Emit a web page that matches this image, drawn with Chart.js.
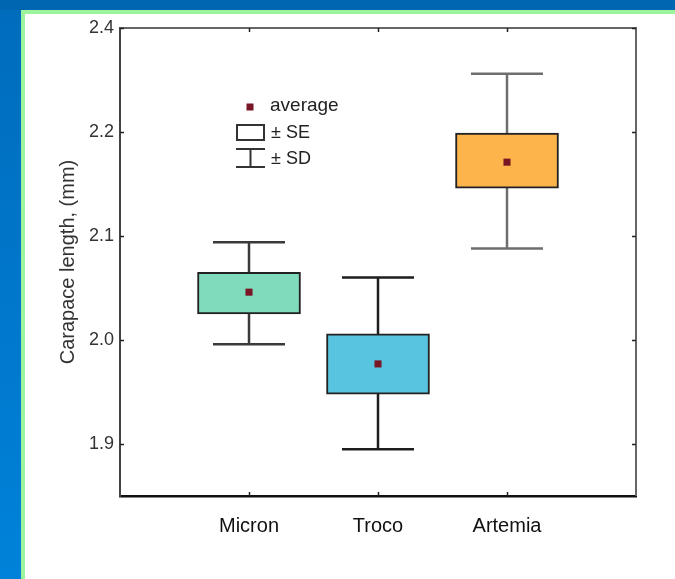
<!DOCTYPE html>
<html>
<head>
<meta charset="utf-8">
<script src="https://cdn.jsdelivr.net/npm/chart.js@4.4.1/dist/chart.umd.min.js"></script>
<style>
html, body { margin: 0; padding: 0; }
body { width: 675px; height: 579px; overflow: hidden; background: #0066b2; position: relative; }
#side { position: absolute; left: 0; top: 10px; width: 21px; height: 569px; background: linear-gradient(#006cbc, #0082da); }
#panel { position: absolute; left: 21px; top: 10px; right: 0; bottom: 0; background: #fff;
         border-top: 4px solid #9cf59c; border-left: 4px solid #9cf59c; }
#chart { position: absolute; left: 0; top: 0; }
</style>
</head>
<body>
<div id="side"></div>
<div id="panel"></div>
<canvas id="chart" width="675" height="579"></canvas>
<script>
var categories = ['Micron', 'Troco', 'Artemia'];
var means  = [2.046, 1.977, 2.171];
var seLow  = [2.025, 1.948, 2.146];
var seHigh = [2.065, 2.006, 2.199];
var sdLow  = [1.996, 1.895, 2.088];
var sdHigh = [2.094, 2.060, 2.256];
// the original figure labels its top tick "2.4" although it sits at 2.3
var yTickValues = [1.9, 2.0, 2.1, 2.2, 2.3];
var yTickLabels = ['1.9', '2.0', '2.1', '2.2', '2.4'];

var boxColors = ['#7fdbbb', '#58c4df', '#fdb44b'];
var whiskerColors = ['#3a3a3a', '#1e1e1e', '#6e6e6e'];

Chart.defaults.font.family = "'Liberation Sans', Arial, sans-serif";
Chart.defaults.color = '#333';

// whiskers, the box frame with inward ticks, and the little key
var decorPlugin = {
    id: 'decor',
    beforeDatasetsDraw: function (chart) {
        var ctx = chart.ctx, xs = chart.scales.x, ys = chart.scales.y;
        ctx.save();
        ctx.lineWidth = 2.5;
        for (var i = 0; i < categories.length; i++) {
            var x = xs.getPixelForValue(i + 1);
            var top = ys.getPixelForValue(sdHigh[i]);
            var bot = ys.getPixelForValue(sdLow[i]);
            ctx.strokeStyle = whiskerColors[i];
            ctx.beginPath();
            ctx.moveTo(x, top); ctx.lineTo(x, bot);
            ctx.moveTo(x - 36, top); ctx.lineTo(x + 36, top);
            ctx.moveTo(x - 36, bot); ctx.lineTo(x + 36, bot);
            ctx.stroke();
        }
        ctx.restore();
    },
    afterDraw: function (chart) {
        var ctx = chart.ctx, a = chart.chartArea, xs = chart.scales.x, ys = chart.scales.y;
        ctx.save();
        // top and right edges of the frame
        ctx.strokeStyle = '#666';
        ctx.lineWidth = 2;
        ctx.beginPath();
        ctx.moveTo(a.left, a.top); ctx.lineTo(a.right, a.top); ctx.lineTo(a.right, a.bottom);
        ctx.stroke();
        // inward ticks
        ctx.strokeStyle = '#222';
        ctx.lineWidth = 1.5;
        ctx.beginPath();
        for (var i = 0; i < categories.length; i++) {
            var x = Math.round(xs.getPixelForValue(i + 1)) + 0.5;
            ctx.moveTo(x, a.top); ctx.lineTo(x, a.top + 4);
            ctx.moveTo(x, a.bottom); ctx.lineTo(x, a.bottom - 4);
        }
        yTickValues.forEach(function (v) {
            var y = Math.round(ys.getPixelForValue(v)) + 0.5;
            ctx.moveTo(a.left, y); ctx.lineTo(a.left + 4, y);
            ctx.moveTo(a.right, y); ctx.lineTo(a.right - 4, y);
        });
        ctx.stroke();

        // key
        ctx.fillStyle = '#7a1526';
        ctx.fillRect(246.5, 103.5, 7, 7);
        ctx.strokeStyle = '#333';
        ctx.lineWidth = 2;
        ctx.strokeRect(237, 125, 27, 15);
        ctx.beginPath();
        ctx.moveTo(236, 149); ctx.lineTo(265, 149);
        ctx.moveTo(250.5, 149); ctx.lineTo(250.5, 167);
        ctx.moveTo(236, 167); ctx.lineTo(265, 167);
        ctx.stroke();
        ctx.fillStyle = '#222';
        ctx.textBaseline = 'middle';
        ctx.font = "19px 'Liberation Sans', Arial, sans-serif";
        ctx.fillText('average', 270, 106);
        ctx.font = "18px 'Liberation Sans', Arial, sans-serif";
        ctx.fillText('\u00b1 SE', 271, 133);
        ctx.fillText('\u00b1 SD', 271, 159);
        ctx.restore();
    }
};

var boxData = categories.map(function (c, i) { return { x: i + 1, y: [seLow[i], seHigh[i]] }; });
var meanData = categories.map(function (c, i) { return { x: i + 1, y: means[i] }; });

new Chart(document.getElementById('chart'), {
    data: {
        datasets: [{
            type: 'bar',
            label: '\u00b1 SE',
            data: boxData,
            backgroundColor: boxColors,
            borderColor: '#222',
            borderWidth: 2,
            borderSkipped: false,
            barThickness: 103,
            order: 1
        }, {
            type: 'scatter',
            label: 'average',
            data: meanData,
            pointStyle: 'rect',
            pointRadius: 5,
            pointBackgroundColor: '#7a1526',
            pointBorderWidth: 0,
            order: 0
        }]
    },
    options: {
        responsive: false,
        animation: false,
        devicePixelRatio: 1,
        layout: { padding: { top: 28, right: 39, bottom: 0, left: 0 } },
        plugins: {
            legend: { display: false },
            tooltip: { enabled: false }
        },
        scales: {
            x: {
                type: 'linear',
                offset: false,
                min: 0,
                max: 4,
                afterFit: function (s) { s.height = 83; },
                afterBuildTicks: function (s) {
                    s.ticks = categories.map(function (c, i) { return { value: i + 1 }; });
                },
                ticks: {
                    padding: 18,
                    color: '#111',
                    font: { size: 20 },
                    callback: function (v) { return categories[v - 1]; }
                },
                grid: { drawOnChartArea: false, drawTicks: false, offset: false },
                border: { color: '#111', width: 2.5 }
            },
            y: {
                min: 1.85,
                max: 2.3,
                afterFit: function (s) { s.width = 120; },
                afterBuildTicks: function (s) {
                    s.ticks = yTickValues.map(function (v) { return { value: v }; });
                },
                ticks: {
                    padding: 6,
                    color: '#333',
                    font: { size: 18 },
                    callback: function (v, i) { return yTickLabels[i]; }
                },
                grid: { drawOnChartArea: false, drawTicks: false },
                border: { color: '#444', width: 2 },
                title: {
                    display: true,
                    text: 'Carapace length, (mm)',
                    color: '#333',
                    font: { size: 20 },
                    padding: { top: 56, bottom: 0 }
                }
            }
        }
    },
    plugins: [decorPlugin]
});
</script>
</body>
</html>
